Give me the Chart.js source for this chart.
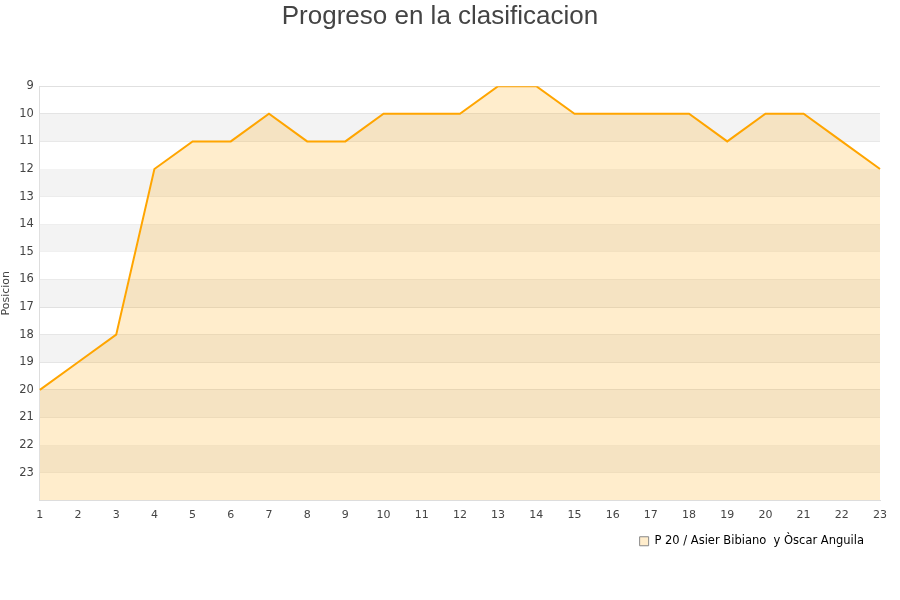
<!DOCTYPE html>
<html>
<head>
<meta charset="utf-8">
<script src="https://cdn.jsdelivr.net/npm/chart.js@4"></script>
<style>
  body { margin: 0; background: #fff; }
  #wrap { width: 900px; height: 600px; }
</style>
</head>
<body>
<div id="wrap"><canvas id="posChart"></canvas></div>
<script>
var jornadas = ["1","2","3","4","5","6","7","8","9","10","11","12","13","14","15","16","17","18","19","20","21","22","23"];
var posiciones = [20,19,18,12,11,11,10,11,11,10,10,10,9,9,10,10,10,10,11,10,10,11,12];
var equipo = "P 20 / Asier Bibiano  y Òscar Anguila";
var bandas = [10,12,14,16,18,20,22];

// grey bands behind the line
var stripes = {
  id: "stripes",
  beforeDatasetsDraw: function(chart) {
    var ctx = chart.ctx, y = chart.scales.y, a = chart.chartArea;
    ctx.save();
    ctx.fillStyle = "#f3f3f3";
    bandas.forEach(function(b) {
      var y1 = y.getPixelForValue(b), y2 = y.getPixelForValue(b + 1);
      ctx.fillRect(a.left, y1, a.right - a.left, y2 - y1);
    });
    ctx.restore();
  }
};

// legend sits a little in from the right edge
var legendShift = {
  id: "legendShift",
  afterLayout: function(chart) {
    chart.legend.right -= 10;
  }
};

new Chart("posChart", {
  type: "line",
  data: {
    labels: jornadas,
    datasets: [{
      label: equipo,
      data: posiciones,
      borderColor: "#ffa500",
      backgroundColor: "rgba(255,165,0,0.2)",
      borderWidth: 2,
      fill: {value: 24},
      pointRadius: 0,
      tension: 0
    }]
  },
  options: {
    responsive: true,
    maintainAspectRatio: false,
    animation: false,
    layout: {padding: {top: 0, right: 20, bottom: 43, left: 0}},
    plugins: {
      title: {
        display: true,
        text: "Progreso en la clasificacion",
        color: "#444",
        font: {family: "Liberation Sans", size: 26, weight: "normal"},
        padding: {top: 1, bottom: 54}
      },
      legend: {
        position: "bottom",
        align: "end",
        labels: {
          color: "#000",
          font: {family: "DejaVu Sans", size: 11.5},
          boxWidth: 9,
          boxHeight: 9,
          padding: 6,
          generateLabels: function(chart) {
            return [{
              text: equipo,
              fillStyle: "rgba(255,165,0,0.2)",
              strokeStyle: "#888",
              lineWidth: 1,
              datasetIndex: 0
            }];
          }
        }
      },
      tooltip: {enabled: false}
    },
    scales: {
      x: {
        offset: false,
        grid: {display: false, drawTicks: false},
        border: {color: "#ddd"},
        ticks: {color: "#444", padding: 8, font: {family: "DejaVu Sans", size: 11}, maxRotation: 0, autoSkip: false}
      },
      y: {
        reverse: true,
        min: 9,
        max: 24,
        grid: {color: "#e0e0e0", drawTicks: false},
        border: {color: "#ddd"},
        title: {display: true, text: "Posicion", color: "#444", font: {family: "DejaVu Sans", size: 11}, padding: {top: 0, bottom: 0}},
        ticks: {
          stepSize: 1,
          color: "#444",
          padding: 6,
          font: {family: "DejaVu Sans", size: 11.5},
          callback: function(v) { return v == 24 ? "" : v; }
        }
      }
    }
  },
  plugins: [stripes, legendShift]
});
</script>
</body>
</html>
